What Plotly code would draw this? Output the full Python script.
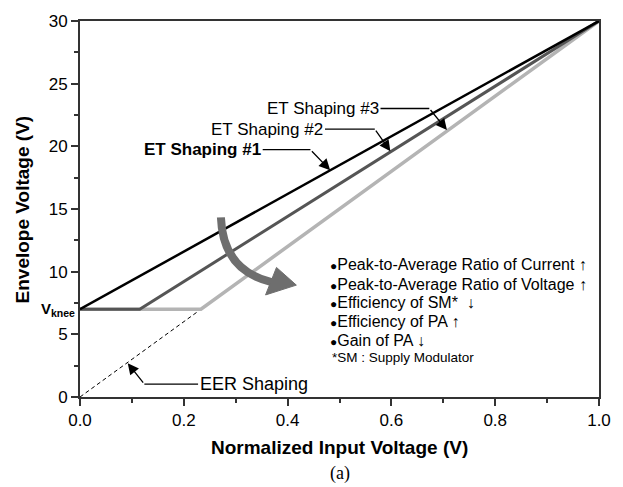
import plotly.graph_objects as go

# ---- data ----
x_et1 = [0.0, 1.0]
y_et1 = [7.0, 30.0]
x_et2 = [0.0, 0.115, 1.0]
y_et2 = [7.0, 7.0, 30.0]
x_et3 = [0.0, 0.233, 1.0]
y_et3 = [7.0, 7.0, 30.0]
x_eer = [0.0, 0.233]
y_eer = [0.0, 7.0]

x_ticks = [0.0, 0.2, 0.4, 0.6, 0.8, 1.0]
x_ticktext = ["0.0", "0.2", "0.4", "0.6", "0.8", "1.0"]
y_ticks = [0, 5, 10, 15, 20, 25, 30]

bullets = [
    "Peak-to-Average Ratio of Current ↑",
    "Peak-to-Average Ratio of Voltage ↑",
    "Efficiency of SM*  ↓",
    "Efficiency of PA ↑",
    "Gain of PA ↓",
]
footnote = "*SM : Supply Modulator"

FONT = "Liberation Sans, Arial, sans-serif"

fig = go.Figure()
fig.add_trace(go.Scatter(x=x_eer, y=y_eer, mode="lines",
                         line=dict(color="black", width=1, dash="4px,3px")))
fig.add_trace(go.Scatter(x=x_et3, y=y_et3, mode="lines",
                         line=dict(color="#b4b4b4", width=3.5)))
fig.add_trace(go.Scatter(x=x_et2, y=y_et2, mode="lines",
                         line=dict(color="#555555", width=3)))
fig.add_trace(go.Scatter(x=x_et1, y=y_et1, mode="lines",
                         line=dict(color="#000000", width=2.5)))

annotations = []
shapes = []

def label_arrow(text, tx, ty, ex, tipx, tipy, anchor, size, bold=False):
    t = f"<b>{text}</b>" if bold else text
    annotations.append(dict(x=tx, y=ty, xref="x", yref="y", text=t, showarrow=False,
                            xanchor=anchor, yanchor="middle",
                            font=dict(size=size, color="black", family=FONT)))
    shapes.append(dict(type="line", xref="x", yref="y", x0=tx, y0=ty, x1=ex, y1=ty,
                       line=dict(color="black", width=1.3)))
    annotations.append(dict(x=tipx, y=tipy, ax=ex, ay=ty, xref="x", yref="y",
                            axref="x", ayref="y", text="", showarrow=True,
                            arrowhead=2, arrowsize=1.7, arrowwidth=1.3,
                            arrowcolor="black", standoff=0, startstandoff=0))

label_arrow("ET Shaping #1", 0.352, 19.73, 0.444, 0.482, 18.1, "right", 17, bold=True)
label_arrow("ET Shaping #2", 0.472, 21.38, 0.568, 0.598, 19.6, "right", 17)
label_arrow("ET Shaping #3", 0.579, 23.02, 0.673, 0.707, 21.3, "right", 17)
label_arrow("EER Shaping", 0.2275, 1.02, 0.124, 0.092, 2.7, "left", 18)

# bullet list
ys_px = [262, 282, 301, 320, 339]
for txt, py in zip(bullets, ys_px):
    annotations.append(dict(x=0.478, y=(397 - py) / 12.77, xref="x", yref="y",
                            text="<span style='font-size:12px'>●</span>" + txt,
                            showarrow=False, xanchor="left", yanchor="middle",
                            font=dict(size=16, color="black", family=FONT)))
annotations.append(dict(x=0.481, y=(397 - 357) / 12.77, xref="x", yref="y",
                        text=footnote, showarrow=False, xanchor="left", yanchor="middle",
                        font=dict(size=13.5, color="black", family=FONT)))

# V_knee label
annotations.append(dict(x=-0.005, y=7, xref="paper", yref="y",
                        text="<b>V<sub>knee</sub></b>", showarrow=False,
                        xanchor="right", yanchor="middle",
                        font=dict(size=15, color="black", family=FONT)))

# axis titles
annotations.append(dict(x=0.5, y=(397 - 448) / 383, xref="paper", yref="paper",
                        text="<b>Normalized Input Voltage (V)</b>", showarrow=False,
                        xanchor="center", yanchor="middle",
                        font=dict(size=19, color="black", family=FONT)))
annotations.append(dict(x=(22 - 80) / 523, y=0.5, xref="paper", yref="paper",
                        text="<b>Envelope Voltage (V)</b>", showarrow=False,
                        textangle=-90, xanchor="center", yanchor="middle",
                        font=dict(size=19, color="black", family=FONT)))
annotations.append(dict(x=0.5, y=(397 - 475) / 383, xref="paper", yref="paper",
                        text="(a)", showarrow=False, xanchor="center", yanchor="middle",
                        font=dict(size=18, color="black", family="Liberation Serif, Times New Roman, serif")))

# curved gray arrow (shaft + head), in data coordinates from pixel estimates
def px2d(px, py):
    return (px - 80) / 523, (397 - py) / 12.77

s = px2d(222, 214)
c = px2d(224, 268)
e = px2d(273, 280)
shapes.append(dict(type="path", xref="x", yref="y",
                   path=f"M {s[0]},{s[1]} Q {c[0]},{c[1]} {e[0]},{e[1]}",
                   line=dict(color="#6e6e6e", width=8)))
a1 = px2d(267, 293)
a2 = px2d(278, 265)
a3 = px2d(298, 283)
shapes.append(dict(type="path", xref="x", yref="y",
                   path=f"M {a1[0]},{a1[1]} L {a2[0]},{a2[1]} L {a3[0]},{a3[1]} Z",
                   fillcolor="#6e6e6e", line=dict(color="#6e6e6e", width=1)))

fig.update_layout(
    width=623, height=487,
    margin=dict(l=80, r=20, t=14, b=90),
    paper_bgcolor="white", plot_bgcolor="white",
    showlegend=False,
    font=dict(family=FONT, color="black"),
    annotations=annotations,
    shapes=shapes,
)
fig.update_xaxes(range=[0, 1], tickvals=x_ticks, ticktext=x_ticktext,
                 ticks="outside", ticklen=7, tickwidth=1.5, tickcolor="#333",
                 showline=True, linecolor="#333", linewidth=2, mirror=True,
                 showgrid=False, zeroline=False,
                 tickfont=dict(size=17, color="black", family=FONT),
                 minor=dict(ticks="outside", dtick=0.1, tick0=0, ticklen=4,
                            tickwidth=1.5, tickcolor="#333", showgrid=False))
fig.update_yaxes(range=[0, 30], tickvals=y_ticks,
                 ticks="outside", ticklen=7, tickwidth=1.5, tickcolor="#333",
                 showline=True, linecolor="#333", linewidth=2, mirror=True,
                 showgrid=False, zeroline=False,
                 tickfont=dict(size=17, color="black", family=FONT),
                 minor=dict(ticks="outside", dtick=2.5, tick0=0, ticklen=4,
                            tickwidth=1.5, tickcolor="#333", showgrid=False))

fig.write_html("out.html")
